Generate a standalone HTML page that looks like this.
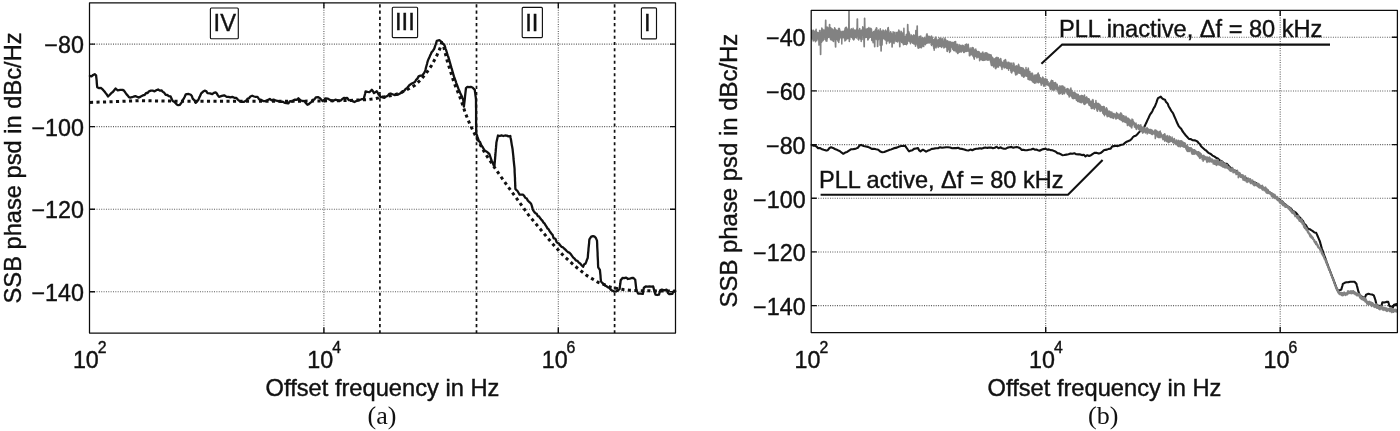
<!DOCTYPE html>
<html lang="en">
<head>
<meta charset="utf-8">
<title>SSB phase noise psd</title>
<style>
html,body{margin:0;padding:0;background:#fff;}
body{width:1400px;height:431px;overflow:hidden;}
svg{display:block;}
svg text{font-family:'Liberation Sans', Arial, Helvetica, sans-serif;fill:#111;stroke:#111;stroke-width:0.4px;}
</style>
</head>
<body>
<svg width="1400" height="431" viewBox="0 0 1400 431">
<rect width="1400" height="431" fill="#fff"/>
<line x1="89.5" y1="44.1" x2="675.5" y2="44.1" stroke="#555" stroke-width="1.05" stroke-dasharray="0.95 1.4" fill="none"/>
<line x1="89.5" y1="126.6" x2="675.5" y2="126.6" stroke="#555" stroke-width="1.05" stroke-dasharray="0.95 1.4" fill="none"/>
<line x1="89.5" y1="209.2" x2="675.5" y2="209.2" stroke="#555" stroke-width="1.05" stroke-dasharray="0.95 1.4" fill="none"/>
<line x1="89.5" y1="291.8" x2="675.5" y2="291.8" stroke="#555" stroke-width="1.05" stroke-dasharray="0.95 1.4" fill="none"/>
<line x1="323.9" y1="2.8" x2="323.9" y2="333.1" stroke="#555" stroke-width="1.05" stroke-dasharray="0.95 1.4" fill="none"/>
<line x1="558.3" y1="2.8" x2="558.3" y2="333.1" stroke="#555" stroke-width="1.05" stroke-dasharray="0.95 1.4" fill="none"/>
<path d="M89.5 44.1h5.5M675.5 44.1h-5.5M89.5 126.6h5.5M675.5 126.6h-5.5M89.5 209.2h5.5M675.5 209.2h-5.5M89.5 291.8h5.5M675.5 291.8h-5.5M323.9 333.1v-5.5M323.9 2.8v5.5M558.3 333.1v-5.5M558.3 2.8v5.5" stroke="#111" stroke-width="1.4" fill="none"/>
<path d="M90 102.4 L110 101.8 L140 100.7 L180 101.2 L215 101.3 L300 101.2 L345 100.6 L367.5 99.6 L375 98.7 L380.5 97.5 L392.6 95.4 L400 93.1 L409.3 88.5 L414.9 85.3 L420.4 80.1 L426 73.6 L431.6 65.3 L436.2 56.9 L439.9 48.6 L441.8 42.5 L444 48 L447 60.2 L453.9 82.2 L460.9 99.6 L465.5 113.5 L469.7 123.9 L476 136.7 L484.8 152.9 L496.4 170.3 L508 186.6 L517.3 199.3 L528.6 215.1 L540.2 229 L551.8 242.9 L563.4 255.7 L575 266.1 L586.6 275.4 L598.2 282.4 L605.1 284.9 L610.9 287.3 L616.7 288.4 L623.6 289.6 L629.4 290.2 L642.2 290.7 L675.3 291.1" fill="none" stroke="#111" stroke-width="3" stroke-dasharray="3.1 3.4" stroke-linejoin="round"/>
<path d="M89.9 76 L91.5 76.3 L93.1 75 L94.7 74.2 L96.1 75.3 L96.3 77.3 L96.5 79.2 L96.7 81.2 L96.8 83.2 L97 85.1 L97.2 87.1 L99.2 88.1 L101.1 88 L103.1 89.9 L104.5 91.5 L105.9 93.4 L107 94.8 L108 96.5 L109.6 95 L111.2 93.2 L112.8 92 L114.2 90.2 L115.6 88.5 L117.7 90.3 L120.2 89.9 L122.6 89.9 L124 90.6 L125.4 92.7 L126.6 94.4 L127.8 95.6 L129 97.2 L130.2 97.6 L132.1 97.2 L133.9 96.5 L135.8 96.2 L138.5 97.6 L140.7 96.6 L142.8 95.4 L144.8 94.8 L146.2 92.9 L147.6 93 L149 91.3 L150.9 90.7 L152.7 90.7 L154.6 91.3 L156.3 90.3 L158.1 89.5 L159.8 90.6 L161.5 90.3 L162.9 91.9 L164.3 92.8 L165.7 94.8 L167.3 95 L169 96.2 L170.6 96.5 L171.6 98.7 L172.7 101 L174.1 101.7 L175.4 103 L176.8 104.5 L178.2 105.2 L179.9 104.8 L181.7 102.4 L182.7 100.1 L183.7 98.8 L184.6 97 L185.6 94.6 L186.6 94.1 L188.7 94 L190.8 94.8 L191.8 95.9 L192.7 98.6 L193.7 99.6 L194.6 100.5 L195.6 102.9 L197 101.6 L198.4 99.7 L199.1 98.1 L199.8 96.6 L200.5 95 L201.2 93.4 L202.9 91.8 L204.7 90.6 L206.1 91 L207.5 93.1 L209.9 93.3 L212.3 94.1 L213.9 92.9 L215.6 92.3 L216.7 93.4 L217.9 95.4 L219 96.9 L221.8 95.9 L224.2 95.3 L226.7 96.9 L228.6 96.8 L230.4 97.4 L232.3 96.9 L234.4 97.8 L236.4 97.9 L238 99.8 L239.7 101.1 L241.3 101.8 L243.8 101.9 L246.2 100.6 L247.6 98.7 L249 98.3 L250.4 96.5 L252.2 95.7 L254.1 96.5 L255.9 96.9 L257.5 96.9 L259.2 99.3 L260.8 99.7 L263.2 101.1 L265.7 101.1 L267.8 100 L269.8 99 L271.7 100.4 L273.5 99.6 L275.4 100.4 L277.3 100.9 L279.1 101.4 L281 101.8 L282.8 101.7 L284.7 102.9 L286.5 103.1 L288.2 103.4 L290 101.2 L291.8 101.5 L293.5 100.4 L295.1 99.6 L296.8 99.9 L298.4 98.3 L300.5 100.4 L302.6 101 L304.6 101.1 L306 103.3 L307.4 104.8 L308.8 104.1 L310.2 102.9 L311.6 101.8 L313 99.6 L314.4 99.5 L315.8 97.3 L317.9 97.1 L320 98.3 L321.4 99.8 L322.7 101.1 L324.1 100 L325.5 98.3 L327.6 98.6 L329.7 99.7 L332.5 101.1 L335.3 99.7 L337.1 100.1 L338.8 100.9 L340.6 100.6 L342.2 99.2 L343.9 97.8 L345.6 98.2 L347.2 97.9 L348.9 100.2 L350.8 100.3 L352.6 101.1 L354.5 102 L356.8 100.8 L359.1 100.2 L361.5 99.2 L363.8 99.1 L364.2 97.1 L364.7 95.2 L365.2 93.2 L365.6 91.3 L367.5 91.9 L369.4 92.2 L371.8 89.8 L372.9 91.2 L374 93.1 L376.8 91.3 L377.7 92.7 L378.6 94.6 L379.6 95.3 L380.5 97.2 L382.4 96.8 L384.2 97.8 L386.1 96.5 L387.6 95.9 L389.2 93.9 L390.7 93.5 L392.5 94.2 L394.4 95 L396.3 94.8 L398.1 94.6 L400 93.5 L401.5 92.5 L403.1 91.2 L404.6 90.4 L405.8 88.8 L407 88.2 L408.1 86.7 L409.3 85.3 L411.2 83.9 L413 83 L414.9 82 L416.1 79.9 L417.4 78.6 L418.6 76.4 L420.5 75.6 L422.3 75.5 L423.2 74.2 L424.2 72.9 L425.1 70.9 L425.6 69.2 L426 67.5 L426.5 65.8 L427 64 L427.4 62.3 L427.9 60.6 L428.6 58.9 L429.4 57.3 L430.1 55.6 L430.9 54 L431.6 52.3 L433 50.7 L434.3 48.6 L434.9 46.6 L435.6 44.7 L436.2 42.8 L436.8 40.8 L439.4 40.2 L440.7 41.1 L442 43.5 L443.3 43.8 L444.6 45.5 L445.1 47.1 L445.6 48.8 L446.2 50.4 L446.7 52 L447.2 53.7 L447.7 55.3 L448.3 56.9 L448.8 58.6 L449.3 60.2 L449.8 62 L450.3 63.8 L450.8 65.6 L451.3 67.4 L451.9 69.2 L452.4 71 L452.9 72.8 L453.4 74.6 L453.9 76.4 L454.5 78 L455.1 79.6 L455.7 81.2 L456.2 82.8 L456.8 84.4 L457.4 86 L458 87.6 L458.6 89.2 L459.4 90.9 L460.1 92.7 L460.9 94.4 L461.7 96.1 L462.4 97.9 L463.2 99.6 L463.4 101.3 L463.5 103.1 L463.7 104.8 L463.9 106.6 L464.1 104.9 L464.3 103.2 L464.5 101.5 L464.7 99.8 L464.9 98.1 L465 96.5 L465.2 94.8 L465.4 93.1 L465.6 91.4 L465.8 89.7 L466 88 L467.4 86.8 L469.1 87.2 L470.8 86.9 L472.5 87.5 L474.8 89.9 L475 91.8 L475.3 93.8 L475.5 95.7 L475.8 97.7 L476 99.6 L476 101.4 L476 103.1 L476 104.9 L476 106.7 L476.1 108.4 L476.1 110.2 L476.1 112 L476.1 113.7 L476.1 115.5 L476.1 117.3 L476.1 119.1 L476.1 120.8 L476.1 122.6 L476.1 124.4 L476.2 126.1 L476.2 127.9 L476.2 129.7 L476.2 131.4 L476.2 133.2 L476.8 134.8 L477.3 136.4 L477.9 138.1 L478.4 139.7 L479 141.3 L480 142 L480.9 144.5 L481.9 146.1 L482.9 147.5 L483.8 149.2 L484.8 150.6 L486.3 151.4 L487.9 152.6 L489.4 154.1 L490 155.8 L490.6 157.6 L491.2 159.3 L491.8 161 L492.7 162.5 L493.6 165.1 L494.5 165.7 L494.6 163.9 L494.8 162.1 L494.9 160.3 L495.1 158.6 L495.2 156.8 L495.4 155 L495.5 153.2 L495.7 151.4 L495.8 149.6 L496 147.9 L496.1 146.1 L496.3 144.3 L496.4 142.5 L496.8 140.8 L497.2 139 L497.6 137.2 L498 135.5 L499.8 136 L501.5 135.4 L503.3 136 L505 135.5 L506.8 135.6 L508.5 136.4 L510.3 136 L510.6 137.9 L511 139.8 L511.3 141.7 L511.6 143.7 L511.9 145.6 L512.3 147.5 L512.6 149.4 L512.8 151.3 L513 153.1 L513.2 155 L513.4 156.8 L513.5 158.7 L513.7 160.6 L513.9 162.4 L514.1 164.3 L514.3 166.1 L514.5 168 L514.6 169.7 L514.6 171.5 L514.7 173.2 L514.8 175 L514.9 176.7 L515 178.4 L515 180.2 L515.1 181.9 L515.2 183.7 L515.2 185.4 L515.3 187.2 L515.4 188.9 L516.5 190.1 L517.5 191 L518.5 192.8 L519.6 194.7 L521.4 194.7 L523.1 194.7 L524.3 196.1 L525.4 198 L526.6 198.3 L527.7 200.4 L528.9 201.6 L530 202.6 L531.2 204 L531.9 206.1 L532.5 208.3 L533.2 210.4 L534.4 212.1 L535.5 213.3 L536.7 213.9 L537.9 216.2 L539 216.4 L540.2 218.3 L541.3 219.6 L542.5 220.9 L543.5 222.6 L544.5 223.4 L545.5 225.2 L546.5 226.6 L547.6 228.6 L548.6 229.2 L549.6 231.1 L550.6 232.5 L551.6 233.9 L552.6 234.8 L553.6 238.3 L554.6 238.4 L555.6 239.2 L556.6 242.1 L557.6 242.9 L558.9 243.5 L560.2 245.4 L561.5 246.8 L562.8 247.2 L564.1 248.5 L565.4 249.6 L566.7 251 L568 252.2 L569.3 252.6 L570.7 254 L572 255.8 L573.3 257.6 L574.6 258.7 L576 260.4 L577.3 260.8 L578.8 262.6 L580.2 263.5 L581.6 265.2 L583.1 266.8 L584.2 264.3 L585.4 263.8 L586.2 261.9 L586.9 259.9 L587.7 258 L587.9 256.1 L588 254.3 L588.2 252.4 L588.4 250.6 L588.5 248.7 L588.7 246.8 L588.9 245 L589.1 243.1 L589.2 241.3 L589.4 239.4 L591.2 236.7 L593 236.2 L594.7 236.7 L595.9 238.1 L597 240.6 L597.1 242.4 L597.2 244.2 L597.2 245.9 L597.3 247.7 L597.4 249.5 L597.5 251.3 L597.6 253.1 L597.6 254.8 L597.7 256.6 L597.8 258.4 L597.9 260.2 L598 262 L598 263.7 L598.1 265.5 L598.2 267.3 L599.9 269.9 L600.1 271.8 L600.3 273.8 L600.5 275.7 L600.6 277.6 L600.8 279.6 L601 281.5 L602.4 283 L603.7 284.5 L605.1 285.5 L606.5 286.3 L608 287.4 L609.5 288 L610.9 289.9 L612.6 290.7 L614.4 291.6 L616.1 291.3 L617.8 290.7 L619.6 289 L619.8 287.3 L620 285.5 L620.3 283.8 L620.5 282 L620.7 280.3 L622.5 278 L624.3 278.2 L626.2 277.6 L628 279 L629.8 278.6 L631.7 278 L633.5 278 L635.2 279.7 L635.4 281.4 L635.6 283.2 L635.8 284.9 L636 286.7 L636.2 288.4 L636.4 290.2 L637.2 291.6 L638.1 293.6 L640.5 293.6 L642.8 293.9 L643.2 291.9 L643.5 289.8 L643.9 287.8 L645.7 286.5 L647.6 286.6 L649.5 286.5 L651.3 286.7 L653.2 286.5 L653.8 288.9 L654.4 291.3 L655 293 L655.5 294.6 L657.2 295 L659 294.6 L659.6 292.5 L660.2 290.4 L661.9 289.6 L664.2 290.3 L666.6 289.6 L667.3 291.4 L668 293.1 L669.5 294.2 L672.4 293.9 L673.5 291.3 L675.3 291.1" fill="none" stroke="#111" stroke-width="2.3" stroke-linejoin="round" stroke-linecap="round"/>
<line x1="379.9" y1="2.8" x2="379.9" y2="333.1" stroke="#111" stroke-width="1.7" stroke-dasharray="3.1 3.17" stroke-dashoffset="-1.5"/>
<line x1="476.5" y1="2.8" x2="476.5" y2="333.1" stroke="#111" stroke-width="1.7" stroke-dasharray="3.1 3.17" stroke-dashoffset="-1.5"/>
<line x1="614.6" y1="2.8" x2="614.6" y2="333.1" stroke="#111" stroke-width="1.7" stroke-dasharray="3.1 3.17" stroke-dashoffset="-1.5"/>
<rect x="210.4" y="8" width="27.9" height="30.7" rx="1" fill="#fff" stroke="#111" stroke-width="1.15"/>
<text x="224.8" y="31.2" text-anchor="middle" font-size="23.7">IV</text>
<rect x="392.3" y="7.2" width="25.3" height="30.4" rx="1" fill="#fff" stroke="#111" stroke-width="1.15"/>
<text x="404.9" y="30.4" text-anchor="middle" font-size="23.7">III</text>
<rect x="522.2" y="7.4" width="20.2" height="30.2" rx="1" fill="#fff" stroke="#111" stroke-width="1.15"/>
<text x="531.8" y="30.8" text-anchor="middle" font-size="23.7">II</text>
<rect x="641.4" y="7.8" width="15.1" height="31.1" rx="1" fill="#fff" stroke="#111" stroke-width="1.15"/>
<text x="647.4" y="30.9" text-anchor="middle" font-size="23.7">I</text>
<rect x="89.5" y="2.8" width="586" height="330.2" fill="none" stroke="#0c0c0c" stroke-width="1.25" stroke-linejoin="round"/>
<text x="83.9" y="53.3" text-anchor="end" font-size="23.3">−80</text>
<text x="83.9" y="135.8" text-anchor="end" font-size="23.3">−100</text>
<text x="83.9" y="218.4" text-anchor="end" font-size="23.3">−120</text>
<text x="83.9" y="301" text-anchor="end" font-size="23.3">−140</text>
<text x="72.9" y="368.2" font-size="23.3">10<tspan dy="-15.4" dx="-1" font-size="15.8">2</tspan></text>
<text x="307.3" y="368.2" font-size="23.3">10<tspan dy="-15.4" dx="-1" font-size="15.8">4</tspan></text>
<text x="541.7" y="368.2" font-size="23.3">10<tspan dy="-15.4" dx="-1" font-size="15.8">6</tspan></text>
<text transform="translate(20.8 167.9) rotate(-90) scale(1.03 1)" text-anchor="middle" font-size="23.0">SSB phase psd in dBc/Hz</text>
<text transform="translate(382.5 395.5) scale(1.03 1)" text-anchor="middle" font-size="23.0">Offset frequency in Hz</text>
<text x="382" y="423.5" text-anchor="middle" font-size="26" style="font-family:'Liberation Serif', 'Times New Roman', Times, serif;stroke:none">(a)</text>
<line x1="811.2" y1="37.2" x2="1397.4" y2="37.2" stroke="#555" stroke-width="1.05" stroke-dasharray="0.95 1.4" fill="none"/>
<line x1="811.2" y1="90.9" x2="1397.4" y2="90.9" stroke="#555" stroke-width="1.05" stroke-dasharray="0.95 1.4" fill="none"/>
<line x1="811.2" y1="144.6" x2="1397.4" y2="144.6" stroke="#555" stroke-width="1.05" stroke-dasharray="0.95 1.4" fill="none"/>
<line x1="811.2" y1="198.3" x2="1397.4" y2="198.3" stroke="#555" stroke-width="1.05" stroke-dasharray="0.95 1.4" fill="none"/>
<line x1="811.2" y1="251.9" x2="1397.4" y2="251.9" stroke="#555" stroke-width="1.05" stroke-dasharray="0.95 1.4" fill="none"/>
<line x1="811.2" y1="305.6" x2="1397.4" y2="305.6" stroke="#555" stroke-width="1.05" stroke-dasharray="0.95 1.4" fill="none"/>
<line x1="1045.7" y1="10.4" x2="1045.7" y2="332.4" stroke="#555" stroke-width="1.05" stroke-dasharray="0.95 1.4" fill="none"/>
<line x1="1280.2" y1="10.4" x2="1280.2" y2="332.4" stroke="#555" stroke-width="1.05" stroke-dasharray="0.95 1.4" fill="none"/>
<path d="M811.2 37.2h5.5M1397.4 37.2h-5.5M811.2 90.9h5.5M1397.4 90.9h-5.5M811.2 144.6h5.5M1397.4 144.6h-5.5M811.2 198.3h5.5M1397.4 198.3h-5.5M811.2 251.9h5.5M1397.4 251.9h-5.5M811.2 305.6h5.5M1397.4 305.6h-5.5M1045.7 332.4v-5.5M1045.7 10.4v5.5M1280.2 332.4v-5.5M1280.2 10.4v5.5" stroke="#111" stroke-width="1.4" fill="none"/>
<path d="M811.6 144.9 L813.2 145.6 L814.9 145.8 L816.5 146.5 L818.1 148.3 L819.8 148 L821.4 148.9 L823.8 149.8 L826.2 150.6 L827.8 150.2 L829.5 148 L831.1 147.3 L833 147.9 L834.9 149 L836.8 149.7 L838.4 150.6 L840 151.2 L841.7 152.7 L843.3 153.8 L845.2 152.6 L847.1 151.9 L849 150.6 L850.9 149.3 L852.8 149.2 L854.7 148.9 L856.3 148.4 L858 147.7 L859.6 145.3 L861.2 144.9 L863.6 146 L866 146.5 L867.9 146.9 L869.8 147.7 L871.7 148.9 L873.9 148.8 L876 149.3 L878.2 149.7 L880.2 151.4 L882.3 152.2 L884.2 152 L886.1 151.2 L888 150.6 L889.6 149.8 L891.2 149.4 L892.9 148.7 L894.5 148.1 L896.9 147.6 L899.3 146.5 L901.2 146 L903.1 146 L905 145.7 L906 147.1 L907 148.5 L908.1 150.1 L909.1 151.4 L910.7 150.6 L912.4 150.3 L914 148.9 L916 148.5 L918 148.1 L919.2 150.4 L920.5 151.4 L922.9 149.7 L924.5 150.6 L926.1 151.7 L928 150.6 L929.9 149.9 L931.8 148.9 L933.8 148.6 L935.9 148.2 L938 148.2 L940 147.3 L942 147.8 L944 147.5 L946.1 147.2 L948.1 147.3 L950.1 147.5 L952.2 148.3 L954.2 148 L956.2 148.1 L958.1 147.8 L960 148.7 L962.2 148.9 L964.3 149.5 L966.5 150.3 L968.4 150.5 L970.4 149.6 L972.3 150.3 L974.3 149.3 L976.2 148.7 L978.1 148.6 L979.9 148.2 L981.8 148.6 L983.6 147.9 L985.5 147.5 L987.3 147.9 L989.2 147.5 L991.1 147.6 L992.9 148.2 L994.8 147.8 L996.6 146.7 L998.5 148.3 L1000.3 147.3 L1002.2 148.2 L1004 148.7 L1005.9 148.7 L1007.7 147.6 L1009.5 147.2 L1011.4 146.9 L1013.2 147.7 L1015.1 147.2 L1016.9 147.1 L1018.5 147.5 L1020.1 148.3 L1021.8 149.9 L1023.4 149.8 L1025 150.3 L1027 150.2 L1029 149.8 L1031.1 149.5 L1033.1 148.7 L1034.7 149.7 L1036.3 149.5 L1038 150.2 L1039.6 150.8 L1041.5 149.8 L1043.4 149.1 L1045.3 148.7 L1047.1 149.7 L1048.9 149.4 L1050.6 150.1 L1052.4 150.3 L1054.2 151.1 L1055.8 151.7 L1057.4 153.1 L1059.1 153.4 L1060.7 154.2 L1062.3 155.2 L1064.3 155 L1066.4 154.6 L1068.5 154.3 L1070.5 153.6 L1072.4 153.8 L1074.4 153.2 L1076.3 154.3 L1078.3 154.4 L1080.2 154.4 L1082 155.1 L1083.8 154.7 L1085.5 156.4 L1087.3 155.2 L1089.1 156 L1091 155.2 L1092.9 153.8 L1094.8 152.7 L1096.8 152.9 L1098.9 153.6 L1100.5 153.1 L1102.1 151.9 L1103.8 150.2 L1105.4 149.9 L1107 149.6 L1108.7 148.9 L1110.5 148.8 L1112.2 146.4 L1113.9 146.1 L1115.8 145.8 L1117.6 146.1 L1119.5 145.4 L1121.3 144.7 L1123.2 144.5 L1125 142.9 L1126.7 141.7 L1128.5 141 L1130.2 140.3 L1131.6 139 L1133 137 L1134.3 136.1 L1135.7 135.8 L1137.1 134.5 L1138.5 132.9 L1139.9 131.4 L1141.3 130.2 L1142.7 128.6 L1144.1 127.6 L1144.8 126 L1145.5 124.4 L1146.3 122.8 L1147 121.2 L1147.7 119.6 L1148.5 118 L1149.2 116.4 L1149.9 114.8 L1150.7 113.7 L1151.6 112.5 L1152.4 111.2 L1153.2 109.2 L1154 107.7 L1154.9 106.5 L1155.7 104.4 L1156.5 102.3 L1157.2 100.2 L1158 98.1 L1160.8 96.7 L1162.2 98.4 L1163.6 99.3 L1165 99.7 L1165.9 101.8 L1166.8 102.7 L1167.8 103.9 L1168.7 106.5 L1169.6 107.8 L1170.5 109.4 L1171.4 111.1 L1172.4 112.3 L1173.3 113.8 L1174.2 116 L1174.9 117.6 L1175.6 119.2 L1176.3 120.9 L1177 122.5 L1177.7 124.1 L1178.9 126.4 L1180.1 127.7 L1181.2 128.8 L1182.4 131 L1183.6 132.6 L1184.7 134 L1185.8 135.6 L1187 136.8 L1188.9 138.9 L1190.9 139.1 L1192.8 140.3 L1195.1 140.4 L1197.4 141.5 L1198.6 143 L1199.8 144.1 L1200.9 146.1 L1202.1 147.3 L1203.5 148.5 L1204.9 149.8 L1206.2 150.5 L1207.6 152.1 L1209 153.1 L1210.8 154 L1212.5 155.6 L1214.2 156.4 L1216 157.7 L1217.8 158.4 L1219.5 160.3 L1221.2 160.9 L1223 162.4 L1225 163.8 L1227 163.9 L1228.5 165.7 L1230.1 167.3 L1231.6 168.7 L1233 169.8 L1234.5 170.7 L1236 170.7 L1237.4 173.3 L1238.8 173.4 L1240.3 175.2 L1241.8 175.5 L1243.2 176.8 L1244.9 177.6 L1246.5 178.4 L1248.2 178.9 L1249.8 180.2 L1251.5 181.3 L1253.1 181.8 L1254.8 182.8 L1256.5 183.3 L1258.1 184.6 L1259.8 185.9 L1261.4 187.3 L1263.1 188.2 L1264.7 188.9 L1266.4 189.8 L1267.9 190.5 L1269.3 192.5 L1270.8 193.2 L1272.2 194.2 L1273.7 195.9 L1275.1 196.9 L1276.5 198 L1278 198.9 L1279.5 199.5 L1280.9 200.8 L1282.3 201.4 L1283.8 203.3 L1285.2 204.3 L1286.7 205.8 L1288.1 206.6 L1289.6 207.6 L1291.1 208.7 L1292.7 211.1 L1294.2 211.5 L1295.4 212.3 L1296.5 213.4 L1297.7 215 L1298.9 216.7 L1300 217.6 L1301.2 219 L1302.2 220.2 L1303.2 221.3 L1304.2 223.8 L1305.1 224.3 L1306.1 225.5 L1307.1 227.3 L1308.1 228.8 L1309.7 229.2 L1311.2 230.2 L1312.8 231.1 L1314.5 232.5 L1316.2 232.8 L1316.9 234.4 L1317.6 236 L1318.3 237.7 L1319 239.3 L1319.7 240.9 L1320.3 242.9 L1320.8 244.9 L1321.4 247 L1322 249 L1322.6 250.6 L1323.2 252.2 L1323.7 253.9 L1324.3 255.5 L1324.9 257.1 L1325.5 258.7 L1326.1 260.3 L1326.6 262 L1327.2 263.6 L1327.8 265.2 L1328.4 266.9 L1329.1 268.6 L1329.7 270.2 L1330.4 271.9 L1331 273.6 L1331.7 275.3 L1332.3 276.9 L1333 278.6 L1333.6 280.3 L1334.3 282.2 L1335 284 L1335.7 285.9 L1336.4 287.7 L1337.1 289.6 L1338.3 290.8 L1341.3 289.6 L1341.8 287.7 L1342.4 285.7 L1342.9 283.8 L1344.7 282.8 L1346.4 282.2 L1348.4 282.1 L1350.5 281.8 L1352.5 281.7 L1354.5 281.7 L1356.4 283.8 L1356.9 285.8 L1357.5 287.9 L1358 289.9 L1358.5 291.9 L1359.2 293.6 L1359.9 295.4 L1361.6 296.5 L1363.3 297.2 L1365 297.7 L1366.1 294.7 L1368.4 293.8 L1370.2 294.2 L1372 294.5 L1373.8 295.4 L1374.6 297.7 L1375.4 300 L1375.8 301.8 L1376.2 303.6 L1376.6 305.4 L1378.9 305.8 L1381.2 306.3 L1381.8 304.4 L1382.4 302.4 L1384.3 302.5 L1386.3 301.9 L1388.2 301.7 L1388.8 303.8 L1389.3 305.8 L1391 306.7 L1392.8 307.7 L1394 304.7 L1396.6 304" fill="none" stroke="#111" stroke-width="2.1" stroke-linejoin="round" stroke-linecap="round"/>
<path d="M811.7 29.5 L811.9 38.9 L812.1 30.7 L812.4 36.3 L812.6 31.7 L812.8 37.9 L813 31.7 L813.2 41 L813.5 30.2 L813.7 40.5 L813.9 32 L814.1 39.8 L814.3 31.9 L814.6 38.1 L814.8 32.4 L815 40.1 L815.2 31 L815.4 41.7 L815.7 32.1 L815.9 40.3 L816.1 29.2 L816.3 39 L816.5 31.8 L816.8 40.8 L817 33.9 L817.2 39.2 L817.4 34 L817.6 38.5 L817.9 32.5 L818.1 39.1 L818.3 34 L818.5 38.4 L818.7 36.2 L819 45.1 L819.2 32.7 L819.4 40.7 L819.6 30.4 L819.8 40.1 L820.1 30.6 L820.3 38.9 L820.5 54.4 L820.7 54.4 L820.9 34.4 L821.2 41.2 L821.4 32.2 L821.6 42.3 L821.8 28 L822 40.3 L822.3 29.8 L822.5 41.1 L822.7 29.2 L822.9 40.7 L823.1 32.1 L823.4 40 L823.6 31.5 L823.8 37.6 L824 30 L824.2 36.2 L824.5 31 L824.7 37.5 L824.9 31.5 L825.1 39.4 L825.3 31.6 L825.6 20.3 L825.8 20.3 L826 41 L826.2 32.6 L826.4 39.1 L826.7 30.3 L826.9 41.3 L827.1 27.1 L827.3 39.1 L827.5 27.5 L827.8 37 L828 27.7 L828.2 35.5 L828.4 29.6 L828.6 37.2 L828.9 29.7 L829.1 36.4 L829.3 28.8 L829.5 24.5 L829.7 24.5 L830 37.8 L830.2 29 L830.4 39.1 L830.6 27.8 L830.8 39.7 L831.1 27.9 L831.3 39.2 L831.5 29.9 L831.7 39.9 L831.9 29.6 L832.2 38.9 L832.4 29.1 L832.6 38.5 L832.8 29.5 L833 40.9 L833.3 31.3 L833.5 41.6 L833.7 31.3 L833.9 39.2 L834.1 30.1 L834.4 36.3 L834.6 27.8 L834.8 38.3 L835 28.3 L835.2 40.6 L835.5 47 L835.7 47 L835.9 29.9 L836.1 38.6 L836.3 29.9 L836.6 39.4 L836.8 32.5 L837 38.5 L837.2 30.9 L837.4 39.6 L837.7 30.4 L837.9 41 L838.1 31.1 L838.3 41.5 L838.5 28.7 L838.8 42.5 L839 28.2 L839.2 40.2 L839.4 28.4 L839.6 38.6 L839.9 30.1 L840.1 37.9 L840.3 31.7 L840.5 36.7 L840.7 31.7 L841 34.7 L841.2 33.8 L841.4 35.1 L841.6 32.2 L841.8 43.9 L842.1 31.2 L842.3 37.8 L842.5 31.7 L842.7 37.7 L842.9 32 L843.2 36.1 L843.4 31.6 L843.6 37.5 L843.8 31.3 L844 37.7 L844.3 32.5 L844.5 38.9 L844.7 29.9 L844.9 41.1 L845.1 28.3 L845.4 39.6 L845.6 27.4 L845.8 40.3 L846 29.3 L846.2 38.7 L846.5 27.3 L846.7 38.9 L846.9 29.7 L847.1 38.7 L847.3 28.9 L847.6 37.6 L847.8 29.8 L848 37.8 L848.2 32.9 L848.4 38.6 L848.7 32.4 L848.9 10.9 L849.1 10.9 L849.3 41.5 L849.5 29.9 L849.8 39.6 L850 31.1 L850.2 37.3 L850.4 29.9 L850.6 37.1 L850.9 30.5 L851.1 36.9 L851.3 28.8 L851.5 36.1 L851.7 31.1 L852 36.7 L852.2 31.3 L852.4 37.9 L852.6 29.5 L852.8 38.9 L853.1 28.2 L853.3 38.5 L853.5 31.3 L853.7 40.1 L853.9 31.5 L854.2 39.3 L854.4 30.1 L854.6 37 L854.8 31.1 L855 37.4 L855.3 30.2 L855.5 35.7 L855.7 32.7 L855.9 36.2 L856.1 31.4 L856.4 37.9 L856.6 28.9 L856.8 36.1 L857 30.1 L857.2 18.9 L857.5 18.9 L857.7 36 L857.9 30 L858.1 39.3 L858.3 30 L858.6 39.9 L858.8 30.4 L859 37.8 L859.2 29.9 L859.4 36.6 L859.7 28.6 L859.9 36.4 L860.1 30 L860.3 39.1 L860.5 30.9 L860.8 38.9 L861 31.7 L861.2 41.6 L861.4 30.2 L861.6 40.1 L861.9 29.9 L862.1 39.6 L862.3 29.5 L862.5 35.3 L862.7 26.8 L863 35.1 L863.2 27.7 L863.4 35.2 L863.6 29.3 L863.8 37.7 L864.1 46.8 L864.3 46.8 L864.5 18.2 L864.7 18.2 L864.9 27.3 L865.2 36.9 L865.4 29 L865.6 37.6 L865.8 30 L866 37.3 L866.3 30.6 L866.5 34.1 L866.7 29.4 L866.9 37.3 L867.1 28.5 L867.4 37.2 L867.6 29.7 L867.8 39.9 L868 29.3 L868.2 39.7 L868.5 28.5 L868.7 38.4 L868.9 27.6 L869.1 38 L869.3 29.8 L869.6 37.4 L869.8 28.9 L870 35.5 L870.2 29.3 L870.4 36.4 L870.7 28.3 L870.9 35.5 L871.1 28.5 L871.3 37 L871.5 29.2 L871.8 40.4 L872 31.8 L872.2 40.7 L872.4 32.4 L872.6 36.8 L872.9 35 L873.1 42.7 L873.3 33.9 L873.5 35.6 L873.7 31.5 L874 38.4 L874.2 31.8 L874.4 41.1 L874.6 46.8 L874.8 46.8 L875.1 30.2 L875.3 37.4 L875.5 30.7 L875.7 39.1 L875.9 28.9 L876.2 38.8 L876.4 27.8 L876.6 38.9 L876.8 28 L877 39.9 L877.3 30.8 L877.5 46.5 L877.7 46.5 L877.9 40.4 L878.1 31.4 L878.4 39.7 L878.6 29.9 L878.8 37.4 L879 32.4 L879.2 38.5 L879.5 33 L879.7 38.8 L879.9 31.6 L880.1 45.2 L880.3 28.7 L880.6 40.9 L880.8 30.8 L881 50.9 L881.2 50.9 L881.4 41.1 L881.7 31.2 L881.9 40.7 L882.1 45 L882.3 38.4 L882.5 33 L882.8 36.6 L883 30 L883.2 36.6 L883.4 30.9 L883.6 38.7 L883.9 30.8 L884.1 38.7 L884.3 32.4 L884.5 38.9 L884.7 32.6 L885 39.8 L885.2 32.1 L885.4 40 L885.6 30 L885.8 38.6 L886.1 31.5 L886.3 39.1 L886.5 43.8 L886.7 39.6 L886.9 33 L887.2 40.9 L887.4 30.5 L887.6 41 L887.8 28.1 L888 38.7 L888.3 27.5 L888.5 38.3 L888.7 29.9 L888.9 40.9 L889.1 35.3 L889.4 42.9 L889.6 33.5 L889.8 42.4 L890 33.6 L890.2 40.8 L890.5 31.8 L890.7 40.1 L890.9 31.9 L891.1 41.7 L891.3 33.6 L891.6 40.7 L891.8 33.7 L892 47 L892.2 47 L892.4 41.5 L892.7 35.6 L892.9 42.2 L893.1 31.8 L893.3 42.4 L893.5 33.8 L893.8 42.2 L894 43.4 L894.2 41.4 L894.4 32.5 L894.6 36.5 L894.9 32.3 L895.1 37.9 L895.3 36 L895.5 39.8 L895.7 38.1 L896 41.6 L896.2 36.7 L896.4 40.2 L896.6 32.5 L896.8 40.2 L897.1 32.4 L897.3 41.2 L897.5 34.5 L897.7 42 L897.9 34.5 L898.2 41.1 L898.4 31.3 L898.6 40.1 L898.8 30.1 L899 39.8 L899.3 31.1 L899.5 40.1 L899.7 46.8 L899.9 46.8 L900.1 33.9 L900.4 39.2 L900.6 33 L900.8 41.1 L901 31.3 L901.2 40.6 L901.5 31.7 L901.7 42.6 L901.9 33.7 L902.1 42 L902.3 34.6 L902.6 41.9 L902.8 33.1 L903 43.4 L903.2 37.6 L903.4 44.7 L903.7 37.5 L903.9 28.2 L904.1 37 L904.3 44.2 L904.5 36.6 L904.8 44.2 L905 37.2 L905.2 43.9 L905.4 37.1 L905.6 44.2 L905.9 36 L906.1 44 L906.3 34.5 L906.5 44.8 L906.7 34.6 L907 44 L907.2 35.2 L907.4 43.6 L907.6 24.5 L907.8 24.5 L908.1 34 L908.3 41 L908.5 33.4 L908.7 31.4 L908.9 33.6 L909.2 40.8 L909.4 33 L909.6 41.7 L909.8 36.3 L910 41.9 L910.3 37.9 L910.5 43.8 L910.7 37.5 L910.9 41.7 L911.1 34.7 L911.4 41.5 L911.6 36.4 L911.8 41.4 L912 35.8 L912.2 42.4 L912.5 36.6 L912.7 43.3 L912.9 36.8 L913.1 42.8 L913.3 35.7 L913.6 43.8 L913.8 34.8 L914 44 L914.2 36.3 L914.4 44 L914.7 35.8 L914.9 41.7 L915.1 36.2 L915.3 43.7 L915.5 46.2 L915.8 30.6 L916 35.8 L916.2 43.4 L916.4 35.6 L916.6 44.1 L916.9 35.3 L917.1 26 L917.3 26 L917.5 45.9 L917.7 37.9 L918 48.1 L918.2 39.2 L918.4 48.3 L918.6 38 L918.8 48.1 L919.1 36.6 L919.3 47.5 L919.5 38 L919.7 47.6 L919.9 36.5 L920.2 46.3 L920.4 38.1 L920.6 45.9 L920.8 35.9 L921 47.7 L921.3 38.1 L921.5 47.7 L921.7 38.4 L921.9 46.8 L922.1 39.3 L922.4 45 L922.6 37.7 L922.8 45.6 L923 37.8 L923.2 45.9 L923.5 39.3 L923.7 46.6 L923.9 40.7 L924.1 44.1 L924.3 38.4 L924.6 42.9 L924.8 38.7 L925 43.7 L925.2 40.7 L925.4 44.7 L925.7 37.9 L925.9 43.1 L926.1 36.8 L926.3 43.6 L926.5 34.8 L926.8 42.6 L927 33.8 L927.2 43.2 L927.4 35.1 L927.6 42.5 L927.9 36 L928.1 41.5 L928.3 36.9 L928.5 41.4 L928.7 37.5 L929 43.2 L929.2 36.4 L929.4 41.2 L929.6 36.6 L929.8 42.4 L930.1 36.9 L930.3 42 L930.5 38.4 L930.7 42 L930.9 37.9 L931.2 44.7 L931.4 36 L931.6 45.5 L931.8 36.2 L932 44.4 L932.3 37.4 L932.5 43.1 L932.7 39.5 L932.9 43.8 L933.1 39.5 L933.4 46.8 L933.6 40.7 L933.8 48.5 L934 39.8 L934.2 50.2 L934.5 39.5 L934.7 47.1 L934.9 38.5 L935.1 47.1 L935.3 38.3 L935.6 46.5 L935.8 37 L936 48.1 L936.2 38.7 L936.4 46.9 L936.7 39.1 L936.9 45.4 L937.1 40.3 L937.3 45.8 L937.5 40.6 L937.8 45 L938 40.5 L938.2 47.4 L938.4 39.8 L938.6 46.4 L938.9 40 L939.1 44.7 L939.3 38.3 L939.5 45.3 L939.7 38.2 L940 46.6 L940.2 38 L940.4 45.8 L940.6 39 L940.8 45 L941.1 38.6 L941.3 46.9 L941.5 39.5 L941.7 47.4 L941.9 40.5 L942.2 46.6 L942.4 39.6 L942.6 44.7 L942.8 38.5 L943 45.3 L943.3 41 L943.5 45.8 L943.7 43 L943.9 47.9 L944.1 42.2 L944.4 47.6 L944.6 39.3 L944.8 47.2 L945 38.1 L945.2 46.6 L945.5 39.5 L945.7 46.5 L945.9 40 L946.1 46.7 L946.3 40.7 L946.6 47.8 L946.8 41.4 L947 51.3 L947.2 41.8 L947.4 51.5 L947.7 40.8 L947.9 49.9 L948.1 41.6 L948.3 48.4 L948.5 41.8 L948.8 48.6 L949 41.9 L949.2 49.9 L949.4 42.1 L949.6 52.4 L949.9 41.6 L950.1 51 L950.3 41.7 L950.5 51.2 L950.7 42.1 L951 46.4 L951.2 43.6 L951.4 45.4 L951.6 42.7 L951.8 47.1 L952.1 42.2 L952.3 47.9 L952.5 43.6 L952.7 49.3 L952.9 43.8 L953.2 49.4 L953.4 42.5 L953.6 50.5 L953.8 42.6 L954 50.6 L954.3 42.3 L954.5 50.7 L954.7 41.7 L954.9 49.7 L955.1 42.5 L955.4 49 L955.6 41.6 L955.8 51.1 L956 44.4 L956.2 52 L956.5 44.5 L956.7 51.8 L956.9 44.5 L957.1 51.3 L957.3 44.2 L957.6 53.4 L957.8 45.9 L958 53.5 L958.2 46.2 L958.4 50.1 L958.7 46 L958.9 51.8 L959.1 44.6 L959.3 52.2 L959.5 45.6 L959.8 50.5 L960 46.4 L960.2 48.7 L960.4 45.7 L960.6 51.6 L960.9 45.3 L961.1 52.3 L961.3 45.8 L961.5 50.9 L961.7 46.8 L962 51.2 L962.2 46.5 L962.4 49.9 L962.6 45.3 L962.8 50 L963.1 45.5 L963.3 50.8 L963.5 46.6 L963.7 52.6 L963.9 46.2 L964.2 52.6 L964.4 46.6 L964.6 51.1 L964.8 46.5 L965 50.9 L965.3 44.6 L965.5 51.6 L965.7 45.1 L965.9 51 L966.1 45.2 L966.4 51.3 L966.6 44 L966.8 51.4 L967 44.9 L967.2 50.8 L967.5 45.7 L967.7 49.3 L967.9 45.4 L968.1 50.9 L968.3 44.2 L968.6 50.2 L968.8 47.5 L969 51.8 L969.2 48.8 L969.4 55.7 L969.7 49.1 L969.9 55.8 L970.1 49.7 L970.3 55 L970.5 49.2 L970.8 54.3 L971 47.8 L971.2 53.4 L971.4 48.9 L971.6 54.4 L971.9 50.4 L972.1 55 L972.3 49.4 L972.5 54.7 L972.7 47.5 L973 56.3 L973.2 47.8 L973.4 56.2 L973.6 49 L973.8 57.9 L974.1 49.2 L974.3 59.3 L974.5 51.6 L974.7 56.6 L974.9 50.9 L975.2 56.2 L975.4 50.6 L975.6 56.6 L975.8 48.9 L976 55.6 L976.3 50.4 L976.5 56.4 L976.7 50.9 L976.9 57.9 L977.1 52.1 L977.4 57.2 L977.6 51.8 L977.8 57.1 L978 51.9 L978.2 54.1 L978.5 51.5 L978.7 55.1 L978.9 52.6 L979.1 57.8 L979.3 52 L979.6 60.8 L979.8 52.8 L980 59 L980.2 53.5 L980.4 59.1 L980.7 54.4 L980.9 59.4 L981.1 54.2 L981.3 59.5 L981.5 53.5 L981.8 58.8 L982 53.2 L982.2 60.2 L982.4 52.3 L982.6 59.8 L982.9 51.9 L983.1 60.6 L983.3 53.6 L983.5 60.3 L983.7 54.4 L984 59.3 L984.2 55.1 L984.4 60.2 L984.6 53.7 L984.8 58.9 L985.1 52.7 L985.3 60 L985.5 53 L985.7 59.3 L985.9 53.1 L986.2 59.6 L986.4 53.9 L986.6 59.7 L986.8 52.7 L987 59.9 L987.3 54 L987.5 60.1 L987.7 53.9 L987.9 60.3 L988.1 54 L988.4 59 L988.6 54.2 L988.8 60.1 L989 54.7 L989.2 60 L989.5 54.6 L989.7 59.4 L989.9 54.9 L990.1 59.8 L990.3 55.1 L990.6 62.3 L990.8 54.8 L991 64.2 L991.2 55.1 L991.4 65.6 L991.7 56.7 L991.9 65.6 L992.1 58.5 L992.3 63.5 L992.5 57.5 L992.8 63.4 L993 58.1 L993.2 65.9 L993.4 58.9 L993.6 67.1 L993.9 59.7 L994.1 64.8 L994.3 59.1 L994.5 64.1 L994.7 58.9 L995 66.3 L995.2 59.4 L995.4 68.5 L995.6 58.1 L995.8 68.7 L996.1 57.9 L996.3 67.7 L996.5 59.2 L996.7 66.4 L996.9 57.3 L997.2 64.8 L997.4 58 L997.6 65.2 L997.8 58.3 L998 67.3 L998.3 57.7 L998.5 66.9 L998.7 58.9 L998.9 65.5 L999.1 60.3 L999.4 65.4 L999.6 60.7 L999.8 65 L1000 59.4 L1000.2 64.4 L1000.5 58.4 L1000.7 65.9 L1000.9 58.7 L1001.1 65.5 L1001.3 61 L1001.6 67.6 L1001.8 63.1 L1002 69.4 L1002.2 63.3 L1002.4 67.3 L1002.7 62.3 L1002.9 66.2 L1003.1 62.4 L1003.3 65.3 L1003.5 62.3 L1003.8 67 L1004 60.5 L1004.2 68 L1004.4 60.4 L1004.6 66.9 L1004.9 60.2 L1005.1 67.2 L1005.3 59.4 L1005.5 67.5 L1005.7 59.9 L1006 66.8 L1006.2 61.9 L1006.4 66.7 L1006.6 63.5 L1006.8 68.4 L1007.1 63.7 L1007.3 68 L1007.5 63.3 L1007.7 68.1 L1007.9 62.3 L1008.2 68.6 L1008.4 63.7 L1008.6 70.3 L1008.8 62.3 L1009 68.4 L1009.3 63.5 L1009.5 67.8 L1009.7 64.1 L1009.9 68.3 L1010.1 62.9 L1010.4 68.7 L1010.6 63.6 L1010.8 70.9 L1011 64.2 L1011.2 72.6 L1011.5 64.1 L1011.7 73 L1011.9 63.1 L1012.1 72.1 L1012.3 65.5 L1012.6 69.5 L1012.8 66.2 L1013 69.9 L1013.2 66 L1013.4 70.7 L1013.7 63.1 L1013.9 71 L1014.1 64 L1014.3 70.8 L1014.5 66.5 L1014.8 71.8 L1015 67.6 L1015.2 73.3 L1015.4 66.6 L1015.6 75 L1015.9 66.1 L1016.1 74.7 L1016.3 65.8 L1016.5 74.5 L1016.7 66.3 L1017 74.5 L1017.2 66.6 L1017.4 72.9 L1017.6 67.5 L1017.8 72.7 L1018.1 65.4 L1018.3 72.9 L1018.5 64.3 L1018.7 73 L1018.9 65 L1019.2 72.6 L1019.4 67.2 L1019.6 73.3 L1019.8 67.3 L1020 72.6 L1020.3 68.4 L1020.5 72.9 L1020.7 67.6 L1020.9 73.9 L1021.1 67.9 L1021.4 75 L1021.6 67.7 L1021.8 76.1 L1022 67.7 L1022.2 76 L1022.5 68.8 L1022.7 75.8 L1022.9 68.2 L1023.1 76.3 L1023.3 68.2 L1023.6 77.2 L1023.8 69.3 L1024 76.3 L1024.2 70.2 L1024.4 76.7 L1024.7 70.3 L1024.9 75.8 L1025.1 71.4 L1025.3 75.6 L1025.5 71.2 L1025.8 74.5 L1026 67.4 L1026.2 76.3 L1026.4 69.9 L1026.6 75.3 L1026.9 70 L1027.1 75.6 L1027.3 71.2 L1027.5 76.5 L1027.7 69.7 L1028 79.3 L1028.2 68 L1028.4 68.8 L1028.6 70.7 L1028.8 78.3 L1029.1 72.3 L1029.3 80 L1029.5 71.7 L1029.7 77.6 L1029.9 71.5 L1030.2 79.1 L1030.4 74 L1030.6 79.4 L1030.8 74 L1031 80.3 L1031.3 74.3 L1031.5 80.1 L1031.7 73.3 L1031.9 80.6 L1032.1 73.1 L1032.4 81.7 L1032.6 73.8 L1032.8 80.8 L1033 76.3 L1033.2 79.9 L1033.5 82.4 L1033.7 78.7 L1033.9 81.6 L1034.1 81 L1034.3 75.2 L1034.6 83.3 L1034.8 75.2 L1035 82.1 L1035.2 75.2 L1035.4 82.4 L1035.7 75.1 L1035.9 83.1 L1036.1 76.4 L1036.3 82 L1036.5 75.1 L1036.8 81 L1037 75 L1037.2 81.2 L1037.4 74.2 L1037.6 82.3 L1037.9 73.3 L1038.1 82.8 L1038.3 72.9 L1038.5 82.7 L1038.7 74.4 L1039 80.7 L1039.2 74.9 L1039.4 80.7 L1039.6 77 L1039.8 81.9 L1040.1 77.6 L1040.3 82.5 L1040.5 78.4 L1040.7 83.3 L1040.9 77.9 L1041.2 85.2 L1041.4 79.4 L1041.6 83.8 L1041.8 78.9 L1042 83.7 L1042.3 78.7 L1042.5 82.6 L1042.7 77 L1042.9 82 L1043.1 77.6 L1043.4 84.1 L1043.6 86.1 L1043.8 83.1 L1044 79.8 L1044.2 84.9 L1044.5 78.9 L1044.7 85.9 L1044.9 79.1 L1045.1 85 L1045.3 78.7 L1045.6 84.4 L1045.8 79.4 L1046 82.7 L1046.2 79.2 L1046.4 83.9 L1046.7 79.4 L1046.9 84.9 L1047.1 79.5 L1047.3 84.9 L1047.5 81.3 L1047.8 85.1 L1048 81.4 L1048.2 84.9 L1048.4 83.4 L1048.6 85.6 L1048.9 84.2 L1049.1 85.9 L1049.3 83.9 L1049.5 86.8 L1049.7 83.1 L1050 88.5 L1050.2 83 L1050.4 89.6 L1050.6 82.1 L1050.8 89.3 L1051.1 80.9 L1051.3 88.2 L1051.5 80.2 L1051.7 88 L1051.9 80.5 L1052.2 89.1 L1052.4 81 L1052.6 90 L1052.8 80.8 L1053 89.7 L1053.3 82.2 L1053.5 88.8 L1053.7 85.3 L1053.9 90.3 L1054.1 84.8 L1054.4 89.9 L1054.6 82.8 L1054.8 89.7 L1055 83 L1055.2 88.9 L1055.5 82.6 L1055.7 87.9 L1055.9 83.2 L1056.1 88.4 L1056.3 84.6 L1056.6 89.3 L1056.8 85.1 L1057 89.8 L1057.2 84.2 L1057.4 90 L1057.7 86 L1057.9 91.1 L1058.1 87.3 L1058.3 92.5 L1058.5 87.4 L1058.8 93.8 L1059 87.6 L1059.2 94.1 L1059.4 87.2 L1059.6 93 L1059.9 85.8 L1060.1 93.2 L1060.3 86.8 L1060.5 93.4 L1060.7 87.3 L1061 92.2 L1061.2 86.6 L1061.4 91.2 L1061.6 85.9 L1061.8 92.6 L1062.1 86.8 L1062.3 94.2 L1062.5 86.1 L1062.7 94.2 L1062.9 86.1 L1063.2 93.2 L1063.4 86.8 L1063.6 93 L1063.8 87.8 L1064 92 L1064.3 88 L1064.5 93.8 L1064.7 87.2 L1064.9 92.7 L1065.1 88.9 L1065.4 91.1 L1065.6 90.4 L1065.8 90.4 L1066 90.7 L1066.2 91.1 L1066.5 89.6 L1066.7 92.1 L1066.9 88.7 L1067.1 93.7 L1067.3 88.9 L1067.6 94.3 L1067.8 88.5 L1068 94.6 L1068.2 88.9 L1068.4 94.9 L1068.7 91 L1068.9 95.9 L1069.1 91.4 L1069.3 97.1 L1069.5 90.5 L1069.8 95.6 L1070 89.4 L1070.2 94.6 L1070.4 89 L1070.6 95.7 L1070.9 88 L1071.1 95.1 L1071.3 90.5 L1071.5 96.5 L1071.7 90.3 L1072 97.5 L1072.2 92.3 L1072.4 98.6 L1072.6 92.4 L1072.8 98.2 L1073.1 92.3 L1073.3 97.4 L1073.5 92.7 L1073.7 98.7 L1073.9 93.6 L1074.2 98.2 L1074.4 92.4 L1074.6 96.7 L1074.8 92.6 L1075 97.1 L1075.3 93 L1075.5 98.6 L1075.7 94.1 L1075.9 98.6 L1076.1 93.9 L1076.4 100.3 L1076.6 94.1 L1076.8 100.1 L1077 94.5 L1077.2 100.7 L1077.5 94.7 L1077.7 101.5 L1077.9 94.2 L1078.1 101 L1078.3 94.5 L1078.6 101.4 L1078.8 96.8 L1079 101.8 L1079.2 96.6 L1079.4 101.3 L1079.7 95.9 L1079.9 102.3 L1080.1 95.9 L1080.3 102.3 L1080.5 96.9 L1080.8 102.6 L1081 95.8 L1081.2 102.5 L1081.4 95.5 L1081.6 102.8 L1081.9 95.4 L1082.1 101.8 L1082.3 96.4 L1082.5 100.7 L1082.7 95.7 L1083 101 L1083.2 96.1 L1083.4 102.8 L1083.6 96.5 L1083.8 104 L1084.1 96.1 L1084.3 103.9 L1084.5 94.9 L1084.7 104.6 L1084.9 98.2 L1085.2 103.9 L1085.4 98.4 L1085.6 102.8 L1085.8 97.5 L1086 103.3 L1086.3 97 L1086.5 102.7 L1086.7 97.1 L1086.9 102.3 L1087.1 97.8 L1087.4 102.4 L1087.6 98.8 L1087.8 101.6 L1088 99.1 L1088.2 103.3 L1088.5 98.8 L1088.7 104.2 L1088.9 98.7 L1089.1 105.3 L1089.3 99.2 L1089.6 105.1 L1089.8 101 L1090 104.8 L1090.2 101.5 L1090.4 106.1 L1090.7 101.2 L1090.9 106.7 L1091.1 102.5 L1091.3 108.6 L1091.5 101.2 L1091.8 108.2 L1092 101 L1092.2 108.4 L1092.4 100 L1092.6 106 L1092.9 99.4 L1093.1 106.4 L1093.3 100.8 L1093.5 107.7 L1093.7 103.3 L1094 108.8 L1094.2 104.1 L1094.4 109.2 L1094.6 103.9 L1094.8 107.5 L1095.1 104.6 L1095.3 106.4 L1095.5 103.2 L1095.7 106.2 L1095.9 100.5 L1096.2 108.3 L1096.4 102.7 L1096.6 109.1 L1096.8 102.9 L1097 110.8 L1097.3 103.4 L1097.5 111.2 L1097.7 104 L1097.9 110 L1098.1 103.5 L1098.4 109.1 L1098.6 103.6 L1098.8 108.2 L1099 104 L1099.2 108 L1099.5 104.4 L1099.7 110.1 L1099.9 104.4 L1100.1 111.6 L1100.3 105.4 L1100.6 111 L1100.8 106.3 L1101 109.6 L1101.2 106.6 L1101.4 110.5 L1101.7 106.5 L1101.9 111 L1102.1 106.9 L1102.3 111.3 L1102.5 107 L1102.8 113.1 L1103 107.6 L1103.2 113.6 L1103.4 106.5 L1103.6 114.2 L1103.9 106.4 L1104.1 114.5 L1104.3 106.7 L1104.5 115.7 L1104.7 108.1 L1105 114.5 L1105.2 109.2 L1105.4 114.1 L1105.6 110.1 L1105.8 114.1 L1106.1 109.2 L1106.3 114 L1106.5 107.8 L1106.7 115.2 L1106.9 108.6 L1107.2 116.8 L1107.4 109.8 L1107.6 116.2 L1107.8 111.1 L1108 116.4 L1108.3 111.8 L1108.5 116.2 L1108.7 111.7 L1108.9 114.9 L1109.1 110.9 L1109.4 115.4 L1109.6 111.3 L1109.8 116.6 L1110 113.1 L1110.2 117.1 L1110.5 112.1 L1110.7 117.5 L1110.9 113.1 L1111.1 117.7 L1111.3 113.5 L1111.6 116.6 L1111.8 112.1 L1112 116.1 L1112.2 113 L1112.4 117.3 L1112.7 113.4 L1112.9 118.1 L1113.1 113.6 L1113.3 118.5 L1113.5 113.7 L1113.8 116.3 L1114 113.6 L1114.2 116.1 L1114.4 113.9 L1114.6 116.5 L1114.9 114.9 L1115.1 118 L1115.3 114.7 L1115.5 117.6 L1115.7 114.2 L1116 119.1 L1116.2 113.6 L1116.4 118.1 L1116.6 112.6 L1116.8 118.2 L1117.1 113.8 L1117.3 118.3 L1117.5 113.8 L1117.7 117.9 L1117.9 113.8 L1118.2 117.5 L1118.4 115.5 L1118.6 117.5 L1118.8 115.2 L1119 118.7 L1119.3 114.8 L1119.5 119.4 L1119.7 114.9 L1119.9 118.5 L1120.1 113.8 L1120.4 118.1 L1120.6 112.9 L1120.8 120.1 L1121 112.9 L1121.2 120.2 L1121.5 113.8 L1121.7 120.4 L1121.9 114.2 L1122.1 119.9 L1122.3 116.4 L1122.6 121.8 L1122.8 117 L1123 121.6 L1123.2 115.7 L1123.4 121.6 L1123.7 115.8 L1123.9 120.7 L1124.1 116.1 L1124.3 121.7 L1124.5 117.2 L1124.8 121.6 L1125 118.7 L1125.2 122.5 L1125.4 118 L1125.6 122.3 L1125.9 116.3 L1126.1 122 L1126.3 116.9 L1126.5 122.3 L1126.7 118.6 L1127 123.8 L1127.2 117.9 L1127.4 125.6 L1127.6 120.3 L1127.8 125.4 L1128.1 121.9 L1128.3 124.6 L1128.5 118.2 L1128.7 124 L1128.9 119.1 L1129.2 125 L1129.4 120.1 L1129.6 125.9 L1129.8 119.4 L1130 124.7 L1130.3 120.6 L1130.5 124.6 L1130.7 121.1 L1130.9 126.6 L1131.1 121.3 L1131.4 127.7 L1131.6 120.4 L1131.8 127.9 L1132 118.9 L1132.2 125.9 L1132.5 119.4 L1132.7 124.1 L1132.9 119.8 L1133.1 123.2 L1133.3 121.5 L1133.6 124.1 L1133.8 121.9 L1134 125.3 L1134.2 122.6 L1134.4 127 L1134.7 123.4 L1134.9 127.2 L1135.1 123.7 L1135.3 127.4 L1135.5 124 L1135.8 128.3 L1136 123.1 L1136.2 129.2 L1136.4 124.4 L1136.6 129.5 L1136.9 124.9 L1137.1 127.6 L1137.3 126.1 L1137.5 127.4 L1137.7 125.7 L1138 127.5 L1138.2 125.1 L1138.4 128.6 L1138.6 124.8 L1138.8 129.6 L1139.1 125.4 L1139.3 129.5 L1139.5 125.8 L1139.7 130.3 L1139.9 125.6 L1140.2 130.8 L1140.4 124.9 L1140.6 131 L1140.8 124.8 L1141 131.3 L1141.3 126.3 L1141.5 131.1 L1141.7 127.2 L1141.9 131.2 L1142.1 128 L1142.4 132.6 L1142.6 127.3 L1142.8 133.3 L1143 127.1 L1143.2 132.5 L1143.5 126.5 L1143.7 132.3 L1143.9 128 L1144.1 131.2 L1144.3 127.7 L1144.6 130.7 L1144.8 128.6 L1145 131.8 L1145.2 128.8 L1145.4 133 L1145.7 129.3 L1145.9 131.6 L1146.1 128.7 L1146.3 131.4 L1146.5 128.8 L1146.8 132.7 L1147 127.5 L1147.2 133.9 L1147.4 128.3 L1147.6 132.1 L1147.9 129 L1148.1 131.4 L1148.3 129.3 L1148.5 132.2 L1148.7 129.1 L1149 133.3 L1149.2 129.4 L1149.4 132.8 L1149.6 130 L1149.8 132.3 L1150.1 130.8 L1150.3 133.4 L1150.5 129.6 L1150.7 132.6 L1150.9 129.4 L1151.2 133.7 L1151.4 129.8 L1151.6 134.1 L1151.8 129.9 L1152 134.5 L1152.3 130.2 L1152.5 134.6 L1152.7 130.5 L1152.9 133.9 L1153.1 131.6 L1153.4 132.7 L1153.6 132.4 L1153.8 133.4 L1154 131.4 L1154.2 134 L1154.5 131.5 L1154.7 133.6 L1154.9 130 L1155.1 134.6 L1155.3 138.6 L1155.6 134 L1155.8 130.1 L1156 134.6 L1156.2 130.4 L1156.4 134.5 L1156.7 131.1 L1156.9 136 L1157.1 131.6 L1157.3 137.1 L1157.5 131.5 L1157.8 137 L1158 131.4 L1158.2 136.6 L1158.4 132.4 L1158.6 137.6 L1158.9 134 L1159.1 137 L1159.3 132.8 L1159.5 136.9 L1159.7 131.5 L1160 137.8 L1160.2 131.1 L1160.4 137.2 L1160.6 133.2 L1160.8 136.7 L1161.1 133.1 L1161.3 136.8 L1161.5 134.5 L1161.7 137 L1161.9 134.9 L1162.2 138 L1162.4 136.2 L1162.6 139 L1162.8 135 L1163 139.7 L1163.3 134.7 L1163.5 139.5 L1163.7 135 L1163.9 138 L1164.1 134.3 L1164.4 139.6 L1164.6 133.8 L1164.8 141.2 L1165 134.1 L1165.2 140.4 L1165.5 135.9 L1165.7 139.1 L1165.9 136.4 L1166.1 139.9 L1166.3 137.3 L1166.6 141.5 L1166.8 136.7 L1167 141.5 L1167.2 135.5 L1167.4 140.5 L1167.7 135.9 L1167.9 141 L1168.1 137.6 L1168.3 142.7 L1168.5 138 L1168.8 141.8 L1169 137.6 L1169.2 142.2 L1169.4 135.9 L1169.6 141.9 L1169.9 136.5 L1170.1 141.3 L1170.3 136.8 L1170.5 141.6 L1170.7 138 L1171 141.2 L1171.2 138.9 L1171.4 141.2 L1171.6 138 L1171.8 141 L1172.1 137.1 L1172.3 141.8 L1172.5 138.2 L1172.7 142.5 L1172.9 139.3 L1173.2 142.9 L1173.4 139.6 L1173.6 142.4 L1173.8 140 L1174 142.1 L1174.3 138.5 L1174.5 142.9 L1174.7 139.3 L1174.9 143.6 L1175.1 140.9 L1175.4 143.9 L1175.6 141.7 L1175.8 142.3 L1176 141.4 L1176.2 143.2 L1176.5 140.1 L1176.7 144.7 L1176.9 141.3 L1177.1 144.4 L1177.3 142 L1177.6 145.5 L1177.8 141.4 L1178 146.3 L1178.2 140.2 L1178.4 146.6 L1178.7 140.5 L1178.9 145.7 L1179.1 141.6 L1179.3 145.4 L1179.5 141.2 L1179.8 146.3 L1180 140.9 L1180.2 146.9 L1180.4 140.7 L1180.6 146.4 L1180.9 141.8 L1181.1 145.7 L1181.3 141.6 L1181.5 145.9 L1181.7 140.7 L1182 146.2 L1182.2 141.5 L1182.4 146.4 L1182.6 142.3 L1182.8 145.8 L1183.1 142.5 L1183.3 146.7 L1183.5 142.2 L1183.7 147.1 L1183.9 142.4 L1184.2 147.2 L1184.4 142.7 L1184.6 147.1 L1184.8 143.4 L1185 146.8 L1185.3 143.3 L1185.5 147.6 L1185.7 145.7 L1185.9 148.9 L1186.1 145.9 L1186.4 149.7 L1186.6 145.2 L1186.8 150.6 L1187 145.4 L1187.2 151.1 L1187.5 146.2 L1187.7 151.4 L1187.9 146.2 L1188.1 150.8 L1188.3 147.3 L1188.6 151.1 L1188.8 147.4 L1189 151.6 L1189.2 148 L1189.4 151.4 L1189.7 147.7 L1189.9 150.4 L1190.1 148.2 L1190.3 150 L1190.5 147.8 L1190.8 149.8 L1191 148 L1191.2 151.9 L1191.4 148.1 L1191.6 153.3 L1191.9 148.8 L1192.1 154.1 L1192.3 149.1 L1192.5 154.3 L1192.7 150 L1193 153.4 L1193.2 149.8 L1193.4 153.9 L1193.6 150.9 L1193.8 154.3 L1194.1 149.8 L1194.3 154.2 L1194.5 149.8 L1194.7 153.8 L1194.9 150 L1195.2 153.8 L1195.4 150.6 L1195.6 153 L1195.8 150.9 L1196 153.7 L1196.3 151.5 L1196.5 153.3 L1196.7 151.5 L1196.9 154.6 L1197.1 152 L1197.4 154.9 L1197.6 152.3 L1197.8 155.4 L1198 151.7 L1198.2 156.1 L1198.5 151.7 L1198.7 156.7 L1198.9 152.1 L1199.1 156.3 L1199.3 152.9 L1199.6 158.3 L1199.8 152.5 L1200 158.4 L1200.2 153 L1200.4 158 L1200.7 153.7 L1200.9 157.3 L1201.1 153.8 L1201.3 156.7 L1201.5 154.6 L1201.8 157.3 L1202 156.1 L1202.2 159.6 L1202.4 155.7 L1202.6 159.7 L1202.9 155.9 L1203.1 161.3 L1203.3 155.8 L1203.5 160.7 L1203.7 155.3 L1204 159.5 L1204.2 155.8 L1204.4 159.6 L1204.6 157 L1204.8 159.4 L1205.1 156.9 L1205.3 158.4 L1205.5 156.7 L1205.7 158.3 L1205.9 156.5 L1206.2 160.1 L1206.4 157.7 L1206.6 161.5 L1206.8 157.9 L1207 162.5 L1207.3 157.2 L1207.5 161.4 L1207.7 157.1 L1207.9 161.3 L1208.1 158.3 L1208.4 161.7 L1208.6 158.1 L1208.8 161.3 L1209 158 L1209.2 161.4 L1209.5 157.1 L1209.7 161.9 L1209.9 157.5 L1210.1 161.6 L1210.3 158.3 L1210.6 160.8 L1210.8 158.6 L1211 161.1 L1211.2 158.9 L1211.4 161.9 L1211.7 159.3 L1211.9 162.1 L1212.1 159 L1212.3 162.1 L1212.5 159.2 L1212.8 162.2 L1213 160.8 L1213.2 163.9 L1213.4 160.7 L1213.6 162.7 L1213.9 160.2 L1214.1 163.6 L1214.3 160.3 L1214.5 164.3 L1214.7 160.3 L1215 164.2 L1215.2 159.9 L1215.4 163.9 L1215.6 160.2 L1215.8 164 L1216.1 160.6 L1216.3 165.4 L1216.5 160.4 L1216.7 164.6 L1216.9 159.8 L1217.2 164.1 L1217.4 159.5 L1217.6 164.7 L1217.8 160.4 L1218 164.7 L1218.3 159.9 L1218.5 163.6 L1218.7 161.4 L1218.9 164.7 L1219.1 162.4 L1219.4 164.3 L1219.6 163 L1219.8 165.2 L1220 161.4 L1220.2 165 L1220.5 161.1 L1220.7 165.7 L1220.9 160.8 L1221.1 165 L1221.3 161.6 L1221.6 166.1 L1221.8 161.6 L1222 166 L1222.2 161.9 L1222.4 166.6 L1222.7 161.6 L1222.9 167.1 L1223.1 162.8 L1223.3 166.8 L1223.5 164.1 L1223.8 166.7 L1224 163.4 L1224.2 167.4 L1224.4 162.9 L1224.6 167.7 L1224.9 163.5 L1225.1 167.7 L1225.3 164.7 L1225.5 167.6 L1225.7 163.9 L1226 168 L1226.2 164.6 L1226.4 167.4 L1226.6 165.1 L1226.8 167.8 L1227.1 164.6 L1227.3 168.3 L1227.5 166 L1227.7 168.2 L1227.9 166.7 L1228.2 169 L1228.4 166.6 L1228.6 169.3 L1228.8 166.8 L1229 169.7 L1229.3 167.1 L1229.5 170.3 L1229.7 167.5 L1229.9 170.8 L1230.1 168.1 L1230.4 171.1 L1230.6 169 L1230.8 171.3 L1231 169.2 L1231.2 171.4 L1231.5 169.2 L1231.7 170.1 L1231.9 168 L1232.1 170.3 L1232.3 167.6 L1232.6 170.6 L1232.8 167.9 L1233 172.6 L1233.2 168.9 L1233.4 172.7 L1233.7 169.9 L1233.9 172.6 L1234.1 169.9 L1234.3 172 L1234.5 170.7 L1234.8 172.6 L1235 170 L1235.2 172.8 L1235.4 170.4 L1235.6 173.3 L1235.9 170.9 L1236.1 174.6 L1236.3 171.5 L1236.5 174.2 L1236.7 172 L1237 174.2 L1237.2 172.2 L1237.4 170.2 L1237.6 171.4 L1237.8 174.5 L1238.1 172.5 L1238.3 177.7 L1238.5 172.2 L1238.7 174.7 L1238.9 172.9 L1239.2 175.6 L1239.4 172.8 L1239.6 175.9 L1239.8 172.5 L1240 176.9 L1240.3 173.6 L1240.5 177.2 L1240.7 174.2 L1240.9 176.8 L1241.1 174.7 L1241.4 177.2 L1241.6 175 L1241.8 177 L1242 175.7 L1242.2 177.9 L1242.5 175.5 L1242.7 178.9 L1242.9 174.8 L1243.1 180.1 L1243.3 175.7 L1243.6 179.7 L1243.8 176.5 L1244 179.9 L1244.2 176.5 L1244.4 180.4 L1244.7 176.3 L1244.9 180.5 L1245.1 175.8 L1245.3 180.4 L1245.5 176 L1245.8 180.8 L1246 177.8 L1246.2 181.6 L1246.4 179.4 L1246.6 181.8 L1246.9 179.7 L1247.1 182.4 L1247.3 179.2 L1247.5 182 L1247.7 178.7 L1248 181.7 L1248.2 177.9 L1248.4 181.8 L1248.6 178.9 L1248.8 181.3 L1249.1 180.1 L1249.3 181.2 L1249.5 180.3 L1249.7 181.9 L1249.9 179.1 L1250.2 182.9 L1250.4 178.8 L1250.6 183.5 L1250.8 179.6 L1251 183.8 L1251.3 180.6 L1251.5 182.7 L1251.7 180.4 L1251.9 182.5 L1252.1 180.3 L1252.4 183.2 L1252.6 180 L1252.8 184.1 L1253 181.2 L1253.2 184.7 L1253.5 182.8 L1253.7 185.2 L1253.9 183.2 L1254.1 185.6 L1254.3 183 L1254.6 185.7 L1254.8 181.6 L1255 185.2 L1255.2 181.9 L1255.4 185.3 L1255.7 182.9 L1255.9 185.4 L1256.1 183.7 L1256.3 185.4 L1256.5 183.8 L1256.8 185.7 L1257 183.8 L1257.2 186.2 L1257.4 183.8 L1257.6 186.3 L1257.9 183.5 L1258.1 186.9 L1258.3 183.4 L1258.5 187.5 L1258.7 183.8 L1259 187.4 L1259.2 184.1 L1259.4 187.8 L1259.6 184.4 L1259.8 188.1 L1260.1 185.5 L1260.3 187.6 L1260.5 185.9 L1260.7 187.6 L1260.9 185.7 L1261.2 188.5 L1261.4 185.8 L1261.6 189 L1261.8 185.4 L1262 189.2 L1262.3 185.2 L1262.5 190.1 L1262.7 185.9 L1262.9 189.8 L1263.1 186.5 L1263.4 189.2 L1263.6 187.2 L1263.8 189.9 L1264 188.4 L1264.2 190.8 L1264.5 188.9 L1264.7 190.8 L1264.9 187.6 L1265.1 190.8 L1265.3 187 L1265.6 191.1 L1265.8 187.2 L1266 192.5 L1266.2 188.2 L1266.4 192.9 L1266.7 188.9 L1266.9 192.8 L1267.1 189.1 L1267.3 193.1 L1267.5 189.3 L1267.8 193.4 L1268 190 L1268.2 193.5 L1268.4 191.1 L1268.6 193.2 L1268.9 192.1 L1269.1 193.1 L1269.3 192.1 L1269.5 193.6 L1269.7 191.9 L1270 194.1 L1270.2 191.7 L1270.4 194.3 L1270.6 192.7 L1270.8 194.8 L1271.1 193.4 L1271.3 196 L1271.5 193.1 L1271.7 196.4 L1271.9 193.1 L1272.2 196.9 L1272.4 193.3 L1272.6 197.1 L1272.8 193.6 L1273 196.8 L1273.3 194 L1273.5 197.5 L1273.7 194 L1273.9 197.9 L1274.1 194.2 L1274.4 198.5 L1274.6 194.7 L1274.8 197.3 L1275 194.6 L1275.2 196.9 L1275.5 195.6 L1275.7 198.3 L1275.9 197.1 L1276.1 198.9 L1276.3 197.3 L1276.6 199.4 L1276.8 196.7 L1277 198.6 L1277.2 196.6 L1277.4 200.5 L1277.7 197 L1277.9 200.5 L1278.1 198.1 L1278.3 200.7 L1278.5 198.8 L1278.8 201 L1279 199.1 L1279.2 201.9 L1279.4 200.1 L1279.6 202.4 L1279.9 200 L1280.1 202.5 L1280.3 200.6 L1280.5 203.4 L1280.7 200.9 L1281 203.7 L1281.2 200.8 L1281.4 203.9 L1281.6 200.8 L1281.8 203.3 L1282.1 201.1 L1282.3 204.8 L1282.5 201.3 L1282.7 205.5 L1282.9 202.1 L1283.2 205.6 L1283.4 202.3 L1283.6 205.5 L1283.8 203 L1284 205.9 L1284.3 203.7 L1284.5 206.3 L1284.7 204.1 L1284.9 207 L1285.1 204.6 L1285.4 207.3 L1285.6 204.3 L1285.8 207.3 L1286 205 L1286.2 207.1 L1286.5 205.5 L1286.7 207.3 L1286.9 205.2 L1287.1 207.4 L1287.3 206.1 L1287.6 207.7 L1287.8 206.4 L1288 208.5 L1288.2 206.5 L1288.4 208.9 L1288.7 206.4 L1288.9 209.3 L1289.1 207.3 L1289.3 209.6 L1289.5 208 L1289.8 210.3 L1290 207.7 L1290.2 210.7 L1290.4 208.1 L1290.6 211.2 L1290.9 208.6 L1291.1 211.7 L1291.3 209.5 L1291.5 212.8 L1291.7 210.3 L1292 213 L1292.2 210.7 L1292.4 213.2 L1292.6 211.7 L1292.8 213.4 L1293.1 211.3 L1293.3 213.7 L1293.5 211.4 L1293.7 213.2 L1293.9 211.4 L1294.2 214.4 L1294.4 212.2 L1294.6 215.4 L1294.8 213.3 L1295 216.6 L1295.3 214.3 L1295.5 216.6 L1295.7 215.2 L1295.9 215.9 L1296.1 215.7 L1296.4 216.6 L1296.6 216.4 L1296.8 217.7 L1297 216.4 L1297.2 218.5 L1297.5 215.4 L1297.7 218.8 L1297.9 215.9 L1298.1 218.8 L1298.3 215.7 L1298.6 219.7 L1298.8 216.6 L1299 220.7 L1299.2 217.7 L1299.4 221.3 L1299.7 219.3 L1299.9 221.1 L1300.1 219.6 L1300.3 221.4 L1300.5 219.1 L1300.8 222.1 L1301 218.8 L1301.2 222.3 L1301.4 219.4 L1301.6 219.1 L1301.9 220.2 L1302.1 223.9 L1302.3 220.5 L1302.5 223.6 L1302.7 221.3 L1303 224.4 L1303.2 222.2 L1303.4 226 L1303.6 222.4 L1303.8 227.1 L1304.1 223.8 L1304.3 227.6 L1304.5 224.4 L1304.7 228.5 L1304.9 225.5 L1305.2 228.1 L1305.4 225.8 L1305.6 228.9 L1305.8 227 L1306 229.9 L1306.3 227.4 L1306.5 230.2 L1306.7 227.7 L1306.9 230.6 L1307.1 228.5 L1307.4 231.9 L1307.6 229.4 L1307.8 232.6 L1308 230.4 L1308.2 233.1 L1308.5 231.7 L1308.7 233.8 L1308.9 232.3 L1309.1 234.5 L1309.3 233.3 L1309.6 235.6 L1309.8 233.4 L1310 236.5 L1310.2 234.1 L1310.4 237.1 L1310.7 234.9 L1310.9 237.1 L1311.1 235.1 L1311.3 237.9 L1311.5 235.6 L1311.8 238.1 L1312 236.2 L1312.2 238.4 L1312.4 236.7 L1312.6 239.3 L1312.9 237.3 L1313.1 239.6 L1313.3 237.8 L1313.5 239.8 L1313.7 239.3 L1314 241.5 L1314.2 239.4 L1314.4 242.2 L1314.6 240 L1314.8 242.8 L1315.1 241.4 L1315.3 243.5 L1315.5 241.6 L1315.7 244.4 L1315.9 241.8 L1316.2 244.1 L1316.4 241.7 L1316.6 244.6 L1316.8 243.1 L1317 245.5 L1317.3 243.9 L1317.5 246.6 L1317.7 244.6 L1317.9 247.5 L1318.1 245.2 L1318.4 248 L1318.6 246.5 L1318.8 248.1 L1319 247.1 L1319.2 248.5 L1319.5 247.9 L1319.7 249.5 L1319.9 247.7 L1320.1 250.4 L1320.3 248.1 L1320.6 250.7 L1320.8 248.6 L1321 251.9 L1321.2 249.6 L1321.4 253.2 L1321.7 250.2 L1321.9 254.1 L1322.1 251.8 L1322.3 254.9 L1322.5 252.7 L1322.8 255.8 L1323 253.8 L1323.2 256.4 L1323.4 254.3 L1323.6 257.2 L1323.9 255.3 L1324.1 258.8 L1324.3 256.3 L1324.5 259.5 L1324.7 258 L1325 260.2 L1325.2 258.5 L1325.4 261.2 L1325.6 258.9 L1325.8 262.7 L1326.1 259.8 L1326.3 263.4 L1326.5 261.1 L1326.7 264.8 L1326.9 262.3 L1327.2 265.6 L1327.4 263.3 L1327.6 266.2 L1327.8 264.5 L1328 267.4 L1328.3 265.9 L1328.5 269.2 L1328.7 267.1 L1328.9 270.3 L1329.1 267.6 L1329.4 270.8 L1329.6 269 L1329.8 271.8 L1330 270.4 L1330.2 272.7 L1330.5 271.8 L1330.7 274.5 L1330.9 272.6 L1331.1 275.8 L1331.3 273.7 L1331.6 276.4 L1331.8 274.7 L1332 277.8 L1332.2 276.4 L1332.4 278.6 L1332.7 277.7 L1332.9 279.9 L1333.1 278.4 L1333.3 280.6 L1333.5 278.9 L1333.8 281.9 L1334 280.3 L1334.2 283.1 L1334.4 281.7 L1334.6 284.6 L1334.9 283.4 L1335.1 285.5 L1335.3 284.5 L1335.5 287.1 L1335.7 285.3 L1336 288.5 L1336.2 286.3 L1336.4 289.2 L1336.6 287.3 L1336.8 290.4 L1337.1 288 L1337.3 291.1 L1337.5 288.4 L1337.7 292.3 L1337.9 289.5 L1338.2 293 L1338.4 290.5 L1338.6 293.4 L1338.8 291 L1339 293.9 L1339.3 292.3 L1339.5 294.4 L1339.7 292.3 L1339.9 294.5 L1340.1 292.7 L1340.4 294.3 L1340.6 292.6 L1340.8 294.5 L1341 292.7 L1341.2 295.1 L1341.5 292.5 L1341.7 295.4 L1341.9 293 L1342.1 295.2 L1342.3 292.7 L1342.6 295.7 L1342.8 292.8 L1343 295.4 L1343.2 293.4 L1343.4 295.5 L1343.7 292.9 L1343.9 295.1 L1344.1 292.1 L1344.3 294.4 L1344.5 292.2 L1344.8 294.8 L1345 292.8 L1345.2 294.9 L1345.4 292.9 L1345.6 295.4 L1345.9 292.9 L1346.1 294.9 L1346.3 293.2 L1346.5 294.8 L1346.7 292.7 L1347 294.6 L1347.2 292.2 L1347.4 294.7 L1347.6 290.9 L1347.8 294.1 L1348.1 291 L1348.3 293.5 L1348.5 291 L1348.7 293.4 L1348.9 291.7 L1349.2 293.5 L1349.4 291.7 L1349.6 293.3 L1349.8 291.2 L1350 293.2 L1350.3 290.9 L1350.5 293 L1350.7 291 L1350.9 293.6 L1351.1 290.8 L1351.4 293.8 L1351.6 291.2 L1351.8 293.6 L1352 291.3 L1352.2 292.7 L1352.5 291.2 L1352.7 292.9 L1352.9 290.8 L1353.1 293.4 L1353.3 290.7 L1353.6 293.5 L1353.8 291.7 L1354 293.7 L1354.2 291.6 L1354.4 293.7 L1354.7 291.8 L1354.9 294.4 L1355.1 292.1 L1355.3 294.8 L1355.5 293.2 L1355.8 294.5 L1356 292.9 L1356.2 295 L1356.4 293.1 L1356.6 295.5 L1356.9 293.4 L1357.1 295.9 L1357.3 293.4 L1357.5 295.5 L1357.7 293.7 L1358 294.5 L1358.2 293.4 L1358.4 295 L1358.6 294 L1358.8 295.9 L1359.1 293.7 L1359.3 296.8 L1359.5 294 L1359.7 297.6 L1359.9 294.4 L1360.2 298.3 L1360.4 294.7 L1360.6 298.6 L1360.8 295.1 L1361 298.5 L1361.3 296 L1361.5 299.4 L1361.7 296.8 L1361.9 299.3 L1362.1 296.9 L1362.4 299.3 L1362.6 297.2 L1362.8 299.7 L1363 297.5 L1363.2 300.4 L1363.5 297.3 L1363.7 300.3 L1363.9 297.7 L1364.1 300 L1364.3 297.7 L1364.6 301 L1364.8 297.6 L1365 301.7 L1365.2 298.2 L1365.4 302 L1365.7 298.9 L1365.9 302.2 L1366.1 298.9 L1366.3 302.6 L1366.5 300 L1366.8 303.9 L1367 300.9 L1367.2 303.2 L1367.4 302.2 L1367.6 303.7 L1367.9 302.1 L1368.1 304.7 L1368.3 302.1 L1368.5 304.5 L1368.7 301.4 L1369 303.9 L1369.2 301.2 L1369.4 304 L1369.6 301.4 L1369.8 304.5 L1370.1 301.8 L1370.3 304.4 L1370.5 302.1 L1370.7 305.2 L1370.9 302.2 L1371.2 305.2 L1371.4 302.3 L1371.6 306.4 L1371.8 302.7 L1372 305.9 L1372.3 302.7 L1372.5 305.8 L1372.7 302.8 L1372.9 305.1 L1373.1 303.3 L1373.4 305.5 L1373.6 304.6 L1373.8 306.5 L1374 304.6 L1374.2 307.4 L1374.5 305.1 L1374.7 307.1 L1374.9 305.4 L1375.1 306.9 L1375.3 304.1 L1375.6 307.2 L1375.8 304 L1376 307.1 L1376.2 304.1 L1376.4 308 L1376.7 304.7 L1376.9 308.3 L1377.1 304.9 L1377.3 308.1 L1377.5 305.6 L1377.8 308.2 L1378 305.7 L1378.2 308.5 L1378.4 305.9 L1378.6 308.9 L1378.9 306.1 L1379.1 308.7 L1379.3 306.7 L1379.5 309.6 L1379.7 306.8 L1380 309.7 L1380.2 307.2 L1380.4 309.2 L1380.6 306.2 L1380.8 308.9 L1381.1 305.8 L1381.3 308.5 L1381.5 307 L1381.7 308.5 L1381.9 307.2 L1382.2 309.6 L1382.4 306.9 L1382.6 310 L1382.8 306.8 L1383 309.4 L1383.3 307.5 L1383.5 309.8 L1383.7 307.7 L1383.9 310.4 L1384.1 307.7 L1384.4 309.8 L1384.6 307.5 L1384.8 309.5 L1385 307.9 L1385.2 309.9 L1385.5 308 L1385.7 310.4 L1385.9 307.9 L1386.1 310.9 L1386.3 308.3 L1386.6 310.9 L1386.8 308.1 L1387 311.4 L1387.2 308.7 L1387.4 311 L1387.7 309 L1387.9 311 L1388.1 309.2 L1388.3 310.3 L1388.5 308.7 L1388.8 310.2 L1389 308.5 L1389.2 310.7 L1389.4 308.3 L1389.6 311.4 L1389.9 308.3 L1390.1 311.7 L1390.3 307.8 L1390.5 311.1 L1390.7 307.7 L1391 310.8 L1391.2 307.7 L1391.4 311.8 L1391.6 308.3 L1391.8 312.6 L1392.1 308.4 L1392.3 312.1 L1392.5 308.9 L1392.7 311.9 L1392.9 308.7 L1393.2 312.3 L1393.4 309.2 L1393.6 312.3 L1393.8 310 L1394 311.9 L1394.3 309.7 L1394.5 311.2 L1394.7 309.4 L1394.9 310.8 L1395.1 309 L1395.4 311.3 L1395.6 309.8 L1395.8 311.8 L1396 310.4 L1396.2 311.9 L1396.5 309.8 L1396.7 312.5" fill="none" stroke="#828282" stroke-width="1.5" stroke-linejoin="round"/>
<path d="M1041.4 63.8L1062.2 44.6H1330" fill="none" stroke="#111" stroke-width="2.1"/>
<text transform="translate(1059 37.2) scale(1.026 1)" font-size="23.0">PLL inactive, Δf = 80 kHz</text>
<path d="M820.6 194.8H1068L1102.6 159.9" fill="none" stroke="#111" stroke-width="2.1"/>
<text transform="translate(819 188) scale(1.024 1)" font-size="23.0">PLL active, Δf = 80 kHz</text>
<rect x="811.2" y="10.4" width="586.2" height="322.1" fill="none" stroke="#0c0c0c" stroke-width="1.25" stroke-linejoin="round"/>
<text x="805.6" y="46.4" text-anchor="end" font-size="23.3">−40</text>
<text x="805.6" y="100.1" text-anchor="end" font-size="23.3">−60</text>
<text x="805.6" y="153.8" text-anchor="end" font-size="23.3">−80</text>
<text x="805.6" y="207.5" text-anchor="end" font-size="23.3">−100</text>
<text x="805.6" y="261.1" text-anchor="end" font-size="23.3">−120</text>
<text x="805.6" y="314.8" text-anchor="end" font-size="23.3">−140</text>
<text x="794.6" y="368.2" font-size="23.3">10<tspan dy="-15.4" dx="-1" font-size="15.8">2</tspan></text>
<text x="1029.1" y="368.2" font-size="23.3">10<tspan dy="-15.4" dx="-1" font-size="15.8">4</tspan></text>
<text x="1263.6" y="368.2" font-size="23.3">10<tspan dy="-15.4" dx="-1" font-size="15.8">6</tspan></text>
<text transform="translate(736.9 170.6) rotate(-90) scale(1.04 1)" text-anchor="middle" font-size="23.0">SSB phase psd in dBc/Hz</text>
<text transform="translate(1104.5 395.5) scale(1.03 1)" text-anchor="middle" font-size="23.0">Offset frequency in Hz</text>
<text x="1103.2" y="423.5" text-anchor="middle" font-size="26" style="font-family:'Liberation Serif', 'Times New Roman', Times, serif;stroke:none">(b)</text>
</svg>
</body>
</html>
